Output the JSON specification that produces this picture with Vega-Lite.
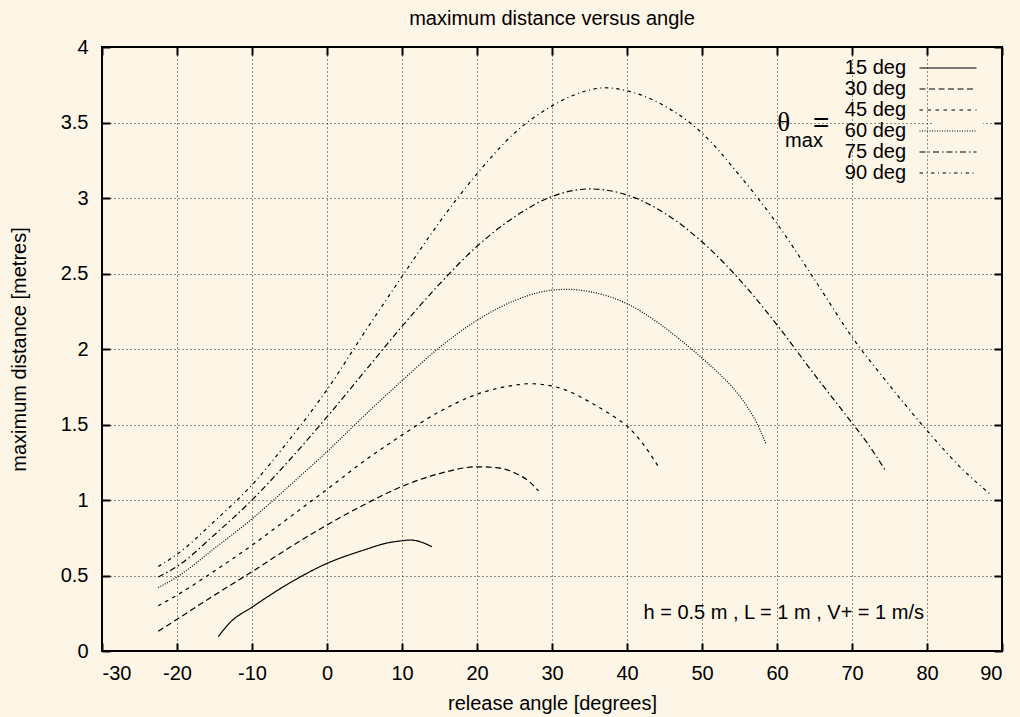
{
  "$schema": "https://vega.github.io/schema/vega-lite/v6.json",
  "width": 900,
  "height": 604,
  "autosize": "none",
  "padding": {"left": 102, "top": 47, "right": 18, "bottom": 66},
  "background": "#fdf5e6",
  "title": {"text": "maximum distance versus angle", "fontSize": 20, "fontWeight": "normal", "font": "Liberation Sans", "color": "#000", "offset": 8},
  "config": {
    "view": {"stroke": "#000", "strokeWidth": 2},
    "font": "Liberation Sans",
    "axis": {"labelFont": "Liberation Sans", "labelFontSize": 20, "labelColor": "#000", "titleFont": "Liberation Sans", "titleFontSize": 20, "titleFontWeight": "normal", "titleColor": "#000", "domain": false, "tickColor": "#000", "tickWidth": 2, "tickSize": -8, "gridColor": "#000", "gridDash": [1, 3], "gridOpacity": 0.85, "gridWidth": 1, "labelExpr": "replace(format(datum.value, '~g'), '\u2212', '-')"}
  },
  "datasets": {
    "curves": [
      {"s": "15 deg", "a": -14.5, "d": 0.095}, {"s": "15 deg", "a": -12.9, "d": 0.19}, {"s": "15 deg", "a": -10, "d": 0.29}, {"s": "15 deg", "a": -5, "d": 0.45}, {"s": "15 deg", "a": 0, "d": 0.58}, {"s": "15 deg", "a": 5, "d": 0.67}, {"s": "15 deg", "a": 8, "d": 0.715}, {"s": "15 deg", "a": 10, "d": 0.73}, {"s": "15 deg", "a": 11.1, "d": 0.735}, {"s": "15 deg", "a": 12.4, "d": 0.724}, {"s": "15 deg", "a": 14, "d": 0.69},
      {"s": "30 deg", "a": -22.5, "d": 0.13}, {"s": "30 deg", "a": -20, "d": 0.21}, {"s": "30 deg", "a": -15, "d": 0.37}, {"s": "30 deg", "a": -10, "d": 0.525}, {"s": "30 deg", "a": -5, "d": 0.685}, {"s": "30 deg", "a": 0, "d": 0.835}, {"s": "30 deg", "a": 5, "d": 0.97}, {"s": "30 deg", "a": 10, "d": 1.09}, {"s": "30 deg", "a": 15, "d": 1.175}, {"s": "30 deg", "a": 20, "d": 1.22}, {"s": "30 deg", "a": 22.5, "d": 1.215}, {"s": "30 deg", "a": 25, "d": 1.18}, {"s": "30 deg", "a": 27, "d": 1.12}, {"s": "30 deg", "a": 28.2, "d": 1.06},
      {"s": "45 deg", "a": -22.5, "d": 0.30}, {"s": "45 deg", "a": -20, "d": 0.37}, {"s": "45 deg", "a": -15, "d": 0.53}, {"s": "45 deg", "a": -10, "d": 0.70}, {"s": "45 deg", "a": -5, "d": 0.885}, {"s": "45 deg", "a": 0, "d": 1.07}, {"s": "45 deg", "a": 5, "d": 1.26}, {"s": "45 deg", "a": 10, "d": 1.43}, {"s": "45 deg", "a": 15, "d": 1.585}, {"s": "45 deg", "a": 20, "d": 1.70}, {"s": "45 deg", "a": 25, "d": 1.76}, {"s": "45 deg", "a": 27, "d": 1.77}, {"s": "45 deg", "a": 30, "d": 1.755}, {"s": "45 deg", "a": 32, "d": 1.725}, {"s": "45 deg", "a": 35, "d": 1.65}, {"s": "45 deg", "a": 38, "d": 1.56}, {"s": "45 deg", "a": 40, "d": 1.49}, {"s": "45 deg", "a": 42, "d": 1.38}, {"s": "45 deg", "a": 44.2, "d": 1.22},
      {"s": "60 deg", "a": -22.5, "d": 0.42}, {"s": "60 deg", "a": -20, "d": 0.49}, {"s": "60 deg", "a": -15, "d": 0.68}, {"s": "60 deg", "a": -10, "d": 0.875}, {"s": "60 deg", "a": -5, "d": 1.095}, {"s": "60 deg", "a": 0, "d": 1.32}, {"s": "60 deg", "a": 5, "d": 1.56}, {"s": "60 deg", "a": 10, "d": 1.79}, {"s": "60 deg", "a": 15, "d": 2.01}, {"s": "60 deg", "a": 20, "d": 2.19}, {"s": "60 deg", "a": 25, "d": 2.32}, {"s": "60 deg", "a": 30, "d": 2.39}, {"s": "60 deg", "a": 32, "d": 2.395}, {"s": "60 deg", "a": 35, "d": 2.38}, {"s": "60 deg", "a": 40, "d": 2.30}, {"s": "60 deg", "a": 44.4, "d": 2.165}, {"s": "60 deg", "a": 47, "d": 2.065}, {"s": "60 deg", "a": 50, "d": 1.94}, {"s": "60 deg", "a": 52, "d": 1.85}, {"s": "60 deg", "a": 54, "d": 1.75}, {"s": "60 deg", "a": 56, "d": 1.62}, {"s": "60 deg", "a": 57.7, "d": 1.47}, {"s": "60 deg", "a": 58.5, "d": 1.375},
      {"s": "75 deg", "a": -22.5, "d": 0.49}, {"s": "75 deg", "a": -20, "d": 0.56}, {"s": "75 deg", "a": -15, "d": 0.77}, {"s": "75 deg", "a": -10, "d": 1.00}, {"s": "75 deg", "a": -5, "d": 1.265}, {"s": "75 deg", "a": 0, "d": 1.55}, {"s": "75 deg", "a": 5, "d": 1.85}, {"s": "75 deg", "a": 10, "d": 2.15}, {"s": "75 deg", "a": 15, "d": 2.43}, {"s": "75 deg", "a": 20, "d": 2.68}, {"s": "75 deg", "a": 25, "d": 2.875}, {"s": "75 deg", "a": 30, "d": 3.01}, {"s": "75 deg", "a": 35, "d": 3.06}, {"s": "75 deg", "a": 40, "d": 3.02}, {"s": "75 deg", "a": 45, "d": 2.90}, {"s": "75 deg", "a": 50, "d": 2.71}, {"s": "75 deg", "a": 55, "d": 2.46}, {"s": "75 deg", "a": 60, "d": 2.16}, {"s": "75 deg", "a": 65, "d": 1.83}, {"s": "75 deg", "a": 70, "d": 1.51}, {"s": "75 deg", "a": 72, "d": 1.38}, {"s": "75 deg", "a": 74.4, "d": 1.20},
      {"s": "90 deg", "a": -22.5, "d": 0.56}, {"s": "90 deg", "a": -20, "d": 0.64}, {"s": "90 deg", "a": -15, "d": 0.86}, {"s": "90 deg", "a": -10, "d": 1.10}, {"s": "90 deg", "a": -5, "d": 1.40}, {"s": "90 deg", "a": 0, "d": 1.73}, {"s": "90 deg", "a": 5, "d": 2.11}, {"s": "90 deg", "a": 10, "d": 2.48}, {"s": "90 deg", "a": 15, "d": 2.84}, {"s": "90 deg", "a": 20, "d": 3.16}, {"s": "90 deg", "a": 25, "d": 3.43}, {"s": "90 deg", "a": 30, "d": 3.61}, {"s": "90 deg", "a": 35, "d": 3.715}, {"s": "90 deg", "a": 37, "d": 3.73}, {"s": "90 deg", "a": 40, "d": 3.71}, {"s": "90 deg", "a": 45, "d": 3.61}, {"s": "90 deg", "a": 50, "d": 3.43}, {"s": "90 deg", "a": 55, "d": 3.15}, {"s": "90 deg", "a": 60, "d": 2.83}, {"s": "90 deg", "a": 65, "d": 2.46}, {"s": "90 deg", "a": 70, "d": 2.08}, {"s": "90 deg", "a": 75, "d": 1.76}, {"s": "90 deg", "a": 80, "d": 1.46}, {"s": "90 deg", "a": 85, "d": 1.19}, {"s": "90 deg", "a": 88.4, "d": 1.04}
    ]
  },
  "layer": [
    {
      "data": {"name": "curves"},
      "mark": {"type": "line", "color": "#000", "strokeWidth": 1.2, "interpolate": "monotone"},
      "encoding": {
        "x": {"field": "a", "type": "quantitative", "scale": {"domain": [-30, 90], "nice": false, "zero": false}, "axis": {"values": [-30, -20, -10, 0, 10, 20, 30, 40, 50, 60, 70, 80, 90], "title": "release angle [degrees]", "labelPadding": 20, "titlePadding": 10, "grid": true}},
        "y": {"field": "d", "type": "quantitative", "scale": {"domain": [0, 4], "nice": false}, "axis": {"values": [0, 0.5, 1, 1.5, 2, 2.5, 3, 3.5, 4], "title": "maximum distance [metres]", "labelPadding": 22, "titlePadding": 31, "grid": true}},
        "strokeDash": {"field": "s", "type": "nominal", "scale": {"domain": ["15 deg", "30 deg", "45 deg", "60 deg", "75 deg", "90 deg"], "range": [[1, 0], [6, 3.5], [3.5, 4.5], [1, 1.5], [6, 3, 1.5, 3], [3.5, 3.5, 1, 3.5]]}, "legend": {"title": null, "orient": "none", "legendX": 831, "legendY": 6, "symbolType": "M-2.85,0H2.85", "symbolSize": 400, "symbolStrokeWidth": 1.2, "symbolStrokeColor": "#000", "labelFontSize": 20, "labelFont": "Liberation Sans", "labelColor": "#000", "labelAlign": "right", "labelOffset": -53, "rowPadding": -1, "fillColor": "#fdf5e6", "padding": 4}}
      }
    },
    {
      "data": {"values": [{}]},
      "mark": {"type": "text", "fontSize": 20, "font": "Liberation Sans", "color": "#000"},
      "encoding": {
        "x": {"datum": 60.9, "type": "quantitative", "axis": {"orient": "top", "labels": false, "grid": false, "title": null, "values": [-30, -20, -10, 0, 10, 20, 30, 40, 50, 60, 70, 80, 90]}},
        "y": {"datum": 0.25, "type": "quantitative", "axis": {"orient": "right", "labels": false, "grid": false, "title": null, "values": [0, 0.5, 1, 1.5, 2, 2.5, 3, 3.5, 4]}},
        "text": {"value": "h = 0.5 m , L = 1 m , V+ = 1 m/s"}
      }
    },
    {
      "data": {"values": [{}]},
      "mark": {"type": "text", "fontSize": 27, "font": "Liberation Serif", "color": "#000"},
      "encoding": {
        "x": {"datum": 60.9, "type": "quantitative", "axis": null},
        "y": {"datum": 3.5, "type": "quantitative", "axis": null},
        "text": {"value": "θ"}
      }
    },
    {
      "data": {"values": [{}]},
      "mark": {"type": "text", "fontSize": 20, "font": "Liberation Sans", "color": "#000"},
      "encoding": {
        "x": {"datum": 63.6, "type": "quantitative", "axis": null},
        "y": {"datum": 3.38, "type": "quantitative", "axis": null},
        "text": {"value": "max"}
      }
    },
    {
      "data": {"values": [{}]},
      "mark": {"type": "text", "fontSize": 28, "font": "Liberation Sans", "color": "#000"},
      "encoding": {
        "x": {"datum": 65.9, "type": "quantitative", "axis": null},
        "y": {"datum": 3.49, "type": "quantitative", "axis": null},
        "text": {"value": "="}
      }
    }
  ],
  "resolve": {"axis": {"x": "independent", "y": "independent"}}
}
